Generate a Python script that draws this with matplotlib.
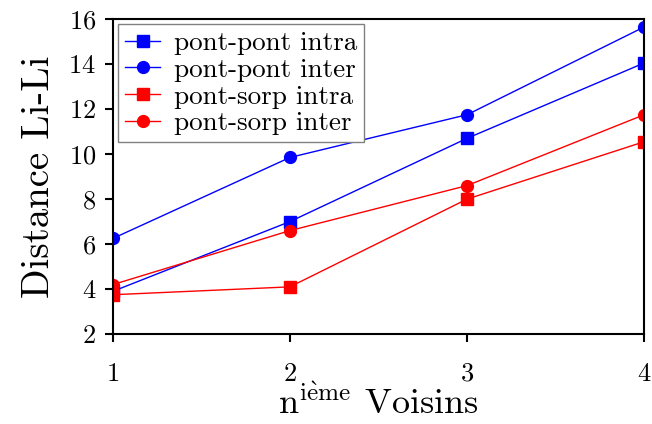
import matplotlib as mpl
mpl.use('Agg')
from matplotlib import pyplot as plt

voisins = [1, 2, 3, 4]
pont_pont_intra = [3.9, 7.0, 10.7, 14.05]
pont_pont_inter = [6.25, 9.85, 11.75, 15.65]
pont_sorp_intra = [3.75, 4.1, 8.0, 10.55]
pont_sorp_inter = [4.2, 6.6, 8.6, 11.75]

labelList = ["pont-pont intra", "pont-pont inter", "pont-sorp intra", "pont-sorp inter"]

plt.rcParams['font.family'] = ['cmr10', 'DejaVu Serif']
plt.rcParams['mathtext.fontset'] = 'cm'
plt.rcParams['axes.formatter.use_mathtext'] = True

fig = plt.figure(figsize=(6.52, 4.24), dpi=100)
ax1 = fig.add_axes([0.173, 0.212, 0.815, 0.743])
ax1.plot(voisins, pont_pont_intra, color='blue', marker='s', markersize=8.5, linewidth=1)
ax1.plot(voisins, pont_pont_inter, color='blue', marker='o', markersize=8.5, linewidth=1)
ax1.plot(voisins, pont_sorp_intra, color='red', marker='s', markersize=8.5, linewidth=1)
ax1.plot(voisins, pont_sorp_inter, color='red', marker='o', markersize=8.5, linewidth=1)

ax1.set_xlim(1, 4)
ax1.set_ylim(2, 16)
ax1.set_xticks([1, 2, 3, 4])
ax1.set_yticks([2, 4, 6, 8, 10, 12, 14, 16])
for sp in ax1.spines.values():
    sp.set_linewidth(1.5)
ax1.tick_params(axis='both', direction='out', length=6, width=1.5, labelsize=19)
ax1.tick_params(axis='x', pad=14)
ax1.tick_params(axis='y', pad=6)

ax1.set_xlabel(r"n$^{\mathrm{i\grave{e}me}}$ Voisins", fontsize=26, labelpad=-1)
ax1.set_ylabel("Distance Li-Li", fontsize=28, labelpad=8)

leg = ax1.legend(labelList, loc='upper left', bbox_to_anchor=(0.0, 1.0), fontsize=19.5,
                 fancybox=False, framealpha=1.0, edgecolor='gray',
                 handlelength=1.3, handletextpad=0.5, labelspacing=0.1,
                 borderpad=0.25, borderaxespad=0.2)
leg.get_frame().set_linewidth(1.0)

plt.savefig('out.png', dpi=100)
